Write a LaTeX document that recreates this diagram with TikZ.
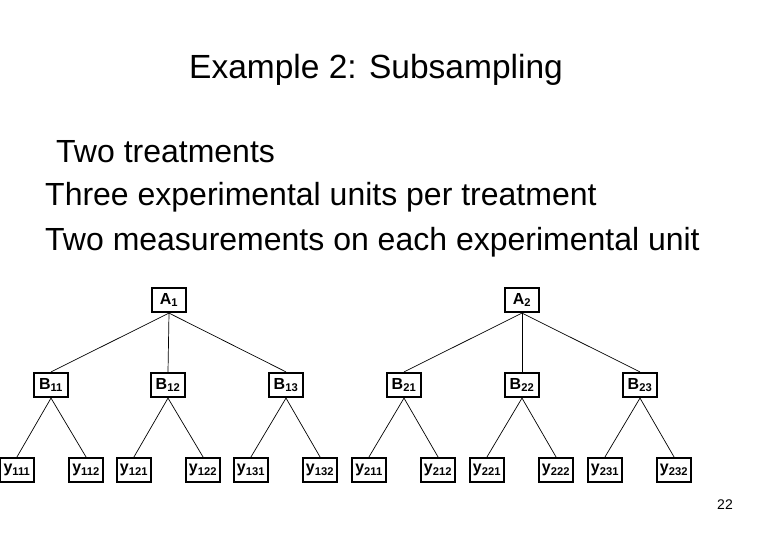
\documentclass[tikz,border=0pt]{standalone}
\usepackage{fontspec}
\setmainfont{Liberation Sans}
\begin{document}
\begin{tikzpicture}[x=1pt,y=-1pt,
  box/.style={draw,line width=2.2pt,minimum width=34pt,minimum height=24pt,inner sep=0pt,font=\bfseries\fontsize{16}{18}\selectfont},
  edge/.style={line width=0.7pt}]
\useasboundingbox (0,0) rectangle (780,540);
\node at (376,70) {\fontsize{33.5}{38}\selectfont Example 2: Subsampling};
\node[anchor=west,inner sep=0pt] at (56,152) {\fontsize{32}{36}\selectfont Two treatments};
\node[anchor=west,inner sep=0pt] at (45,197) {\fontsize{32}{36}\selectfont Three experimental units per treatment};
\node[anchor=west,inner sep=0pt] at (45,242) {\fontsize{32}{36}\selectfont Two measurements on each experimental unit};
\node at (725,505) {\fontsize{14}{16}\selectfont 22};
\node[box] (A1) at (169,300) {A\textsubscript{1}};
\node[box] (A2) at (522,300) {A\textsubscript{2}};
\foreach \n/\x in {11/51,12/168,13/286,21/404,22/522,23/640}{
  \node[box] (B\n) at (\x,385) {B\textsubscript{\n}};}
\foreach \n/\x in {111/17,112/86,121/134,122/203,131/251,132/320,211/369,212/438,221/487,222/556,231/605,232/674}{
  \node[box] (y\n) at (\x,470) {y\textsubscript{\n}};}
\foreach \a in {1,2}{\foreach \b in {1,2,3}{
  \draw[edge] (A\a.south) -- (B\a\b.north);
  \foreach \c in {1,2}{\draw[edge] (B\a\b.south) -- (y\a\b\c.north);}}}
\end{tikzpicture}
\end{document}
